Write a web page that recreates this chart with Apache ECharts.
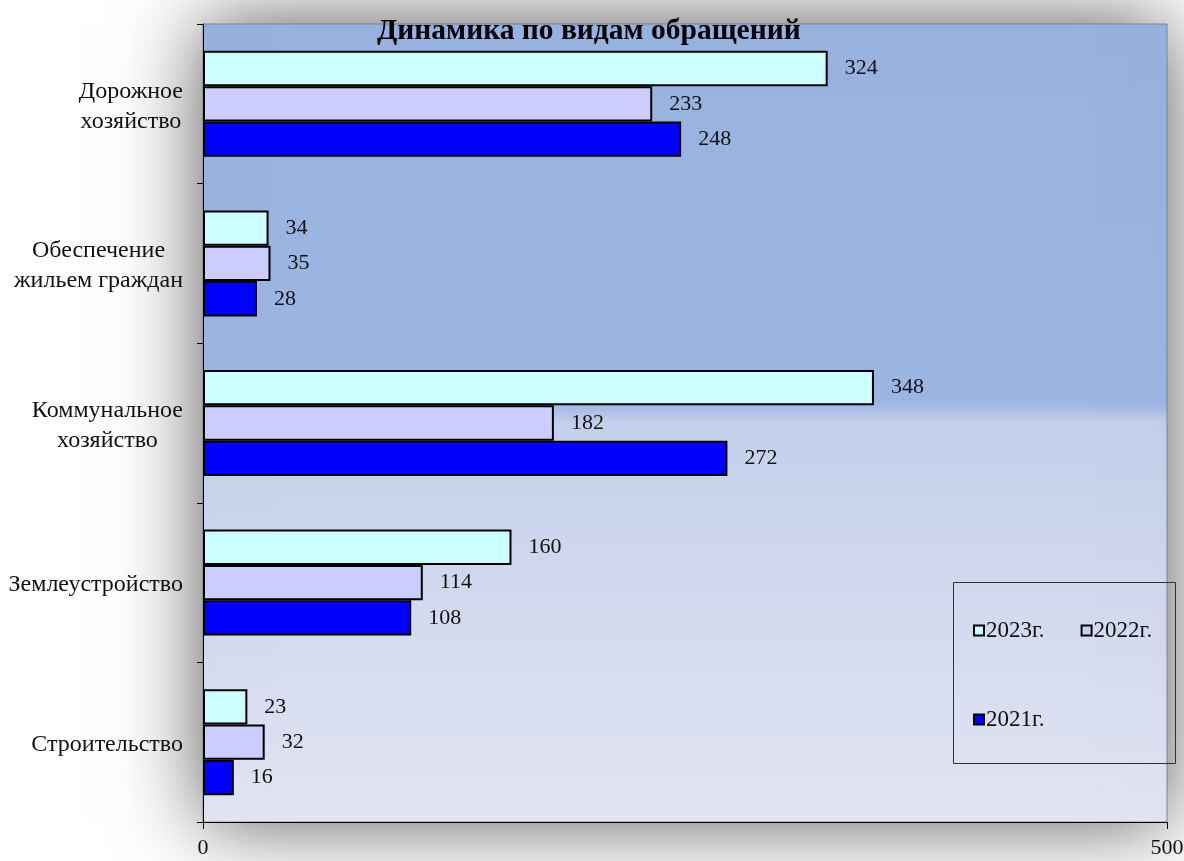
<!DOCTYPE html>
<html>
<head>
<meta charset="utf-8">
<script src="https://cdn.jsdelivr.net/npm/echarts@6/dist/echarts.min.js"></script>
<style>
  html, body { margin: 0; padding: 0; background: #fff; }
  #chart { width: 1184px; height: 861px; }
</style>
</head>
<body>
<div id="chart"></div>
<script>
const categories = ['Дорожное\nхозяйство', 'Обеспечение\nжильем граждан', 'Коммунальное\nхозяйство', 'Землеустройство', 'Строительство'];
const years = ['2023г.', '2022г.', '2021г.'];
const values2023 = [324, 34, 348, 160, 23];
const values2022 = [233, 35, 182, 114, 32];
const values2021 = [248, 28, 272, 108, 16];
const xTicks = [0, 500];

const colors = ['#ccffff', '#ccccff', '#0000ff'];
const serif = 'Liberation Serif, Times New Roman, serif';

const chart = echarts.init(document.getElementById('chart'));

function barSeries(name, data, color) {
    return {
        name: name,
        type: 'bar',
        data: data,
        barGap: '0%',
        barCategoryGap: '33.6%',
        itemStyle: { color: color, borderColor: '#000', borderWidth: 2 },
        label: {
            show: true,
            position: 'right',
            distance: 17,
            fontFamily: serif,
            fontSize: 22,
            color: '#111'
        }
    };
}

chart.setOption({
    backgroundColor: '#fff',
    animation: false,
    title: {
        text: 'Динамика по видам обращений',
        left: 372,
        top: 11,
        textStyle: { fontFamily: serif, fontSize: 29.5, fontWeight: 'bold', color: '#000' }
    },
    legend: [{
        left: 968, top: 614,
        icon: 'rect',
        itemGap: 36,
        itemWidth: 10, itemHeight: 10,
        data: [years[0], years[1]],
        itemStyle: { borderColor: '#000', borderWidth: 2 },
        textStyle: { fontFamily: serif, fontSize: 23, color: '#111', padding: [0, 0, 0, -3] }
    }, {
        left: 968, top: 703,
        icon: 'rect',
        itemWidth: 10, itemHeight: 10,
        data: [years[2]],
        itemStyle: { borderColor: '#000', borderWidth: 2 },
        textStyle: { fontFamily: serif, fontSize: 23, color: '#111', padding: [0, 0, 0, -3] }
    }],
    graphic: [{
        type: 'rect',
        left: 951, top: 580,
        shape: { width: 222, height: 181 },
        style: { fill: 'none', stroke: '#333', lineWidth: 1 },
        z: 10
    }],
    grid: {
        left: 203, right: 17, top: 24, bottom: 39,
        outerBoundsMode: 'none',
        containLabel: false,
        show: true,
        borderColor: '#7a8398',
        borderWidth: 1,
        shadowBlur: 80,
        shadowColor: 'rgba(0,0,0,0.65)',
        backgroundColor: {
            type: 'linear', x: 0, y: 0, x2: 0, y2: 1,
            colorStops: [
                { offset: 0, color: '#99b3e1' },
                { offset: 0.475, color: '#9cb5e2' },
                { offset: 0.5, color: '#c4d0eb' },
                { offset: 1, color: '#e2e5f3' }
            ]
        }
    },
    xAxis: {
        type: 'value',
        min: xTicks[0], max: xTicks[1], interval: xTicks[1] - xTicks[0],
        splitLine: { show: false },
        axisLine: { show: true, lineStyle: { color: '#000', width: 1 } },
        axisTick: { show: true, length: 7, lineStyle: { color: '#000' } },
        axisLabel: { margin: 15, fontFamily: serif, fontSize: 22, color: '#111' }
    },
    yAxis: {
        type: 'category',
        inverse: true,
        data: categories,
        axisLine: { show: true, lineStyle: { color: '#000', width: 1 } },
        axisTick: { show: true, length: 6, lineStyle: { color: '#000' } },
        axisLabel: {
            margin: 20,
            padding: [5, 0, 0, 0],
            formatter: function (v) {
                return v.split('\n').map(function (s) { return '{c|' + s + '}'; }).join('\n');
            },
            rich: {
                c: { align: 'center', fontFamily: serif, fontSize: 24, color: '#111', lineHeight: 30 }
            }
        }
    },
    series: [
        barSeries(years[0], values2023, colors[0]),
        barSeries(years[1], values2022, colors[1]),
        barSeries(years[2], values2021, colors[2])
    ]
});
</script>
</body>
</html>
